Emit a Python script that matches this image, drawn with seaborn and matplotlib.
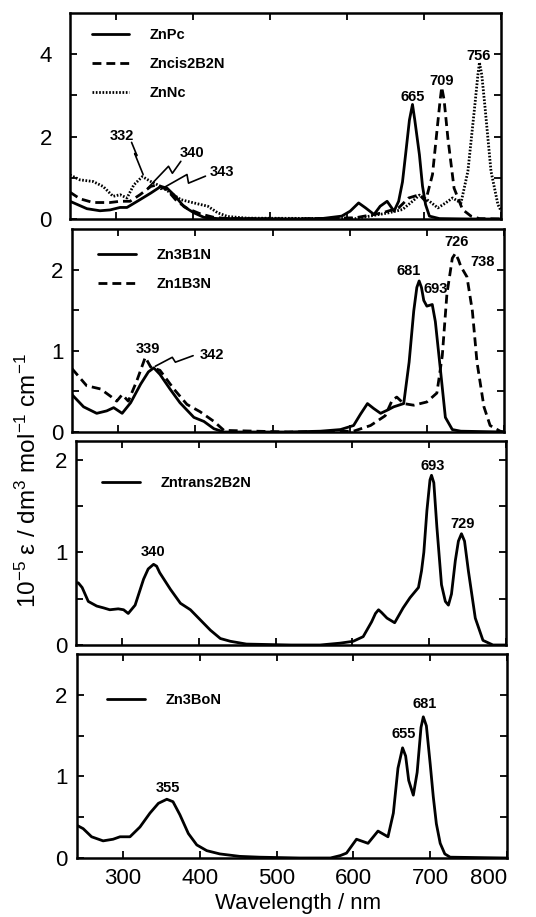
import matplotlib
matplotlib.use("Agg")
import matplotlib.pyplot as plt
import seaborn as sns
import pandas as pd
from matplotlib.ticker import FixedLocator

sns.set_style("ticks")
plt.rcParams['font.family'] = ['Liberation Sans', 'DejaVu Sans']
plt.rcParams['mathtext.fontset'] = 'custom'
plt.rcParams['mathtext.rm'] = 'Liberation Sans'
plt.rcParams['mathtext.it'] = 'Liberation Sans'
for k in ['axes.edgecolor', 'xtick.color', 'ytick.color', 'text.color', 'axes.labelcolor']:
    plt.rcParams[k] = 'black'

# ---------------- data (wavelength nm, 1e-5 * epsilon) ----------------
znpc_wl = [240, 262, 279, 292, 305, 314, 331, 345, 358, 366, 377, 388, 401, 414, 432, 470, 530,
           567, 593, 604, 615, 624, 635, 643, 652, 661, 667, 672, 676, 681, 685, 688, 694, 698, 702, 707, 720, 760, 800]
znpc_a = [0.43, 0.25, 0.20, 0.22, 0.28, 0.28, 0.47, 0.63, 0.79, 0.75, 0.55, 0.30, 0.15, 0.04, 0.01, 0.01, 0.0,
          0.01, 0.07, 0.19, 0.39, 0.27, 0.11, 0.31, 0.43, 0.19, 0.43, 0.90, 1.56, 2.40, 2.78, 2.40, 1.56, 0.80, 0.35, 0.07, 0.01, 0.0, 0.0]

zncis_wl = [240, 253, 270, 292, 305, 318, 331, 345, 353, 366, 379, 393, 410, 427, 445, 530,
            611, 646, 667, 680, 694, 702, 711, 718, 721, 723, 726, 731, 739, 750, 761, 772, 800]
zncis_a = [0.65, 0.49, 0.40, 0.40, 0.43, 0.43, 0.59, 0.79, 0.83, 0.71, 0.43, 0.25, 0.12, 0.04, 0.01, 0.0,
           0.03, 0.15, 0.27, 0.51, 0.59, 0.43, 1.08, 2.36, 2.90, 3.20, 2.90, 1.96, 0.75, 0.23, 0.07, 0.01, 0.0]

znnc_wl = [240, 253, 270, 283, 296, 305, 314, 323, 334, 345, 358, 371, 384, 401, 419, 432, 445, 471,
           611, 654, 672, 685, 694, 707, 718, 728, 737, 748, 757, 766, 770, 772, 775, 779, 787, 796, 800]
znnc_a = [1.07, 0.95, 0.91, 0.79, 0.55, 0.59, 0.51, 0.83, 1.03, 0.91, 0.79, 0.63, 0.47, 0.39, 0.31, 0.15, 0.06, 0.02,
          0.01, 0.15, 0.23, 0.43, 0.58, 0.43, 0.27, 0.39, 0.51, 0.39, 1.16, 2.76, 3.50, 3.80, 3.50, 2.76, 1.16, 0.35, 0.20]

zn3b1n_wl = [240, 255, 272, 285, 294, 305, 316, 329, 339, 346, 354, 367, 380, 398, 411, 424, 437, 520,
             562, 588, 605, 614, 623, 631, 640, 649, 657, 670, 677, 683, 687, 690, 693, 696, 700, 707, 711, 718, 724, 733, 744, 800]
zn3b1n_a = [0.46, 0.31, 0.23, 0.26, 0.30, 0.23, 0.36, 0.59, 0.74, 0.79, 0.71, 0.53, 0.36, 0.18, 0.13, 0.04, 0.0, 0.0,
            0.01, 0.03, 0.08, 0.22, 0.35, 0.29, 0.23, 0.27, 0.31, 0.35, 0.86, 1.49, 1.78, 1.86, 1.78, 1.62, 1.55, 1.57, 1.36, 0.73, 0.18, 0.03, 0.01, 0.0]

zn1b3n_wl = [240, 259, 277, 290, 298, 305, 313, 324, 335, 342, 354, 372, 389, 406, 424, 437, 520,
             605, 627, 646, 655, 661, 670, 683, 700, 713, 720, 726, 733, 737, 741, 744, 752, 759, 765, 774, 782, 795, 800]
zn1b3n_a = [0.78, 0.57, 0.53, 0.44, 0.38, 0.46, 0.38, 0.63, 0.92, 0.80, 0.76, 0.53, 0.34, 0.25, 0.13, 0.02, 0.0,
            0.01, 0.08, 0.20, 0.39, 0.43, 0.35, 0.33, 0.37, 0.48, 0.94, 1.70, 2.14, 2.20, 2.12, 2.04, 1.91, 1.49, 0.86, 0.31, 0.08, 0.01, 0.0]

zntrans_wl = [240, 243, 248, 256, 267, 276, 284, 295, 302, 308, 317, 328, 334, 341, 345, 349, 363, 376, 389, 402, 415, 428, 441, 462, 520,
              558, 584, 601, 614, 625, 630, 634, 638, 645, 655, 666, 675, 686, 690, 693, 697, 701, 703, 706, 710, 716, 721, 725, 729,
              734, 738, 742, 746, 751, 760, 770, 783, 800]
zntrans_a = [0.67, 0.67, 0.62, 0.47, 0.42, 0.40, 0.38, 0.39, 0.38, 0.34, 0.43, 0.71, 0.82, 0.87, 0.85, 0.78, 0.60, 0.45, 0.38, 0.27, 0.16, 0.07, 0.04, 0.01, 0.0,
             0.0, 0.02, 0.04, 0.09, 0.25, 0.34, 0.38, 0.35, 0.29, 0.24, 0.40, 0.51, 0.62, 0.80, 1.00, 1.45, 1.78, 1.83, 1.75, 1.27, 0.65, 0.47, 0.43, 0.55,
             0.91, 1.12, 1.20, 1.12, 0.80, 0.29, 0.05, 0.0, 0.0]

zn3bon_wl = [240, 248, 259, 274, 287, 296, 309, 322, 335, 346, 357, 365, 374, 385, 396, 409, 426, 452, 478, 530,
             570, 583, 591, 604, 619, 632, 645, 652, 658, 664, 668, 672, 678, 683, 688, 691, 695, 700, 704, 708, 713, 719, 726, 800]
zn3bon_a = [0.40, 0.36, 0.26, 0.21, 0.23, 0.26, 0.26, 0.38, 0.55, 0.67, 0.72, 0.69, 0.53, 0.30, 0.16, 0.09, 0.05, 0.02, 0.01, 0.0,
            0.0, 0.03, 0.06, 0.23, 0.18, 0.33, 0.26, 0.55, 1.10, 1.35, 1.25, 0.95, 0.77, 1.05, 1.60, 1.73, 1.62, 1.15, 0.75, 0.42, 0.18, 0.05, 0.01, 0.0]

# peak labels
p1_labels = ["332", "340", "343", "665", "709", "756"]
p2_labels = ["339", "342", "681", "693", "726", "738"]
p3_labels = ["340", "693", "729"]
p4_labels = ["355", "655", "681"]

xticks = [300, 400, 500, 600, 700, 800]

# ---------------- figure ----------------
W, H = 536, 917
fig = plt.figure(figsize=(W / 100, H / 100), dpi=100)

def add_ax(left, right, top, bottom):
    return fig.add_axes([left / W, 1 - bottom / H, (right - left) / W, (bottom - top) / H])

ax1 = add_ax(70, 501, 13, 219)
ax2 = add_ax(72, 504, 229, 432)
ax3 = add_ax(76, 506, 441, 645)
ax4 = add_ax(77, 507, 654, 858)
axes = [ax1, ax2, ax3, ax4]

LW = 2.0
DASH = (0, (3.2, 1.8))
DOT = (0, (0.6, 0.6))
def draw(ax, wl, a, ls, label):
    df = pd.DataFrame({"wl": wl, "a": a})
    sns.lineplot(data=df, x="wl", y="a", ax=ax, color="black", lw=LW, linestyle=ls,
                 label=label, sort=True, estimator=None)

draw(ax1, znpc_wl, znpc_a, "-", "ZnPc")
draw(ax1, zncis_wl, zncis_a, DASH, "Zncis2B2N")
draw(ax1, znnc_wl, znnc_a, DOT, "ZnNc")
draw(ax2, zn3b1n_wl, zn3b1n_a, "-", "Zn3B1N")
draw(ax2, zn1b3n_wl, zn1b3n_a, DASH, "Zn1B3N")
draw(ax3, zntrans_wl, zntrans_a, "-", "Zntrans2B2N")
draw(ax4, zn3bon_wl, zn3bon_a, "-", "Zn3BoN")

ylims = [(0, 5), (0, 2.5), (0, 2.2), (0, 2.5)]
ymajor = [[0, 2, 4], [0, 1, 2], [0, 1, 2], [0, 1, 2]]
yminor = [[1, 3], [0.5, 1.5], [0.5, 1.5], [0.5, 1.5]]
ypads = [13, 6, 6, 7]
for i, ax in enumerate(axes):
    ax.set_xlim(240, 800)
    ax.set_ylim(*ylims[i])
    ax.xaxis.set_major_locator(FixedLocator(xticks))
    ax.yaxis.set_major_locator(FixedLocator(ymajor[i]))
    ax.yaxis.set_minor_locator(FixedLocator(yminor[i]))
    ax.tick_params(which="both", direction="in", top=True, right=True, width=1.3, color="black")
    ax.tick_params(which="major", length=5, labelsize=16)
    ax.tick_params(which="minor", length=5)
    ax.tick_params(axis="y", pad=ypads[i])
    ax.tick_params(axis="x", pad=7)
    ax.set_xlabel("")
    ax.set_ylabel("")
    for s in ax.spines.values():
        s.set_linewidth(1.8)
        s.set_color("black")
    if i < 3:
        ax.tick_params(labelbottom=False)

# the last x tick label sits inside the frame edge, as in the original
fig.canvas.draw()
ax4.get_xticklabels()[-1].set_horizontalalignment("right")

# legends
leg_pos = [(0.05, 0.925), (0.06, 0.905), (0.06, 0.83), (0.07, 0.81)]
for ax, pos in zip(axes, leg_pos):
    ax.legend(loc="upper left", bbox_to_anchor=pos, frameon=False, borderpad=0, borderaxespad=0,
              handlelength=2.6, handletextpad=1.4, labelspacing=1.0,
              prop={"size": 10.5, "weight": "bold"})

fs_ann = 10.5
def ann(ax, txt, x, y):
    ax.text(x, y, txt, ha="center", va="center", fontsize=fs_ann, fontweight="bold")

BW = 1.2
# panel 1 annotations
ann(ax1, p1_labels[0], 307, 2.02)
ann(ax1, p1_labels[1], 399, 1.59)
ann(ax1, p1_labels[2], 437, 1.13)
ann(ax1, p1_labels[3], 685, 2.95)
ann(ax1, p1_labels[4], 723, 3.36)
ann(ax1, p1_labels[5], 771, 3.96)
ax1.plot([320, 327, 324, 335], [1.86, 1.54, 1.59, 1.08], color="black", lw=BW)
ax1.plot([384, 373, 368, 341], [1.40, 1.11, 1.28, 0.75], color="black", lw=BW)
ax1.plot([416, 394, 392, 358], [1.04, 0.87, 1.08, 0.72], color="black", lw=BW)

# panel 2 annotations
ann(ax2, p2_labels[0], 339, 1.02)
ann(ax2, p2_labels[1], 421, 0.95)
ann(ax2, p2_labels[2], 676, 1.98)
ann(ax2, p2_labels[3], 711, 1.76)
ann(ax2, p2_labels[4], 738, 2.34)
ann(ax2, p2_labels[5], 772, 2.09)
ax2.plot([397, 374, 370, 348], [0.94, 0.86, 0.92, 0.81], color="black", lw=BW)

# panel 3 annotations
ann(ax3, p3_labels[0], 340, 1.0)
ann(ax3, p3_labels[1], 704, 1.93)
ann(ax3, p3_labels[2], 744, 1.31)

# panel 4 annotations
ann(ax4, p4_labels[0], 359, 0.86)
ann(ax4, p4_labels[1], 665, 1.52)
ann(ax4, p4_labels[2], 693, 1.89)

fig.text(28 / W, 1 - 481 / H, r"10$^{-5}$ ε / dm$^{3}$ mol$^{-1}$ cm$^{-1}$", rotation=90,
         ha="center", va="center", fontsize=17.5)
fig.text(298 / W, 1 - 903 / H, "Wavelength / nm", ha="center", va="center", fontsize=16)

fig.savefig("out.png", dpi=100)
